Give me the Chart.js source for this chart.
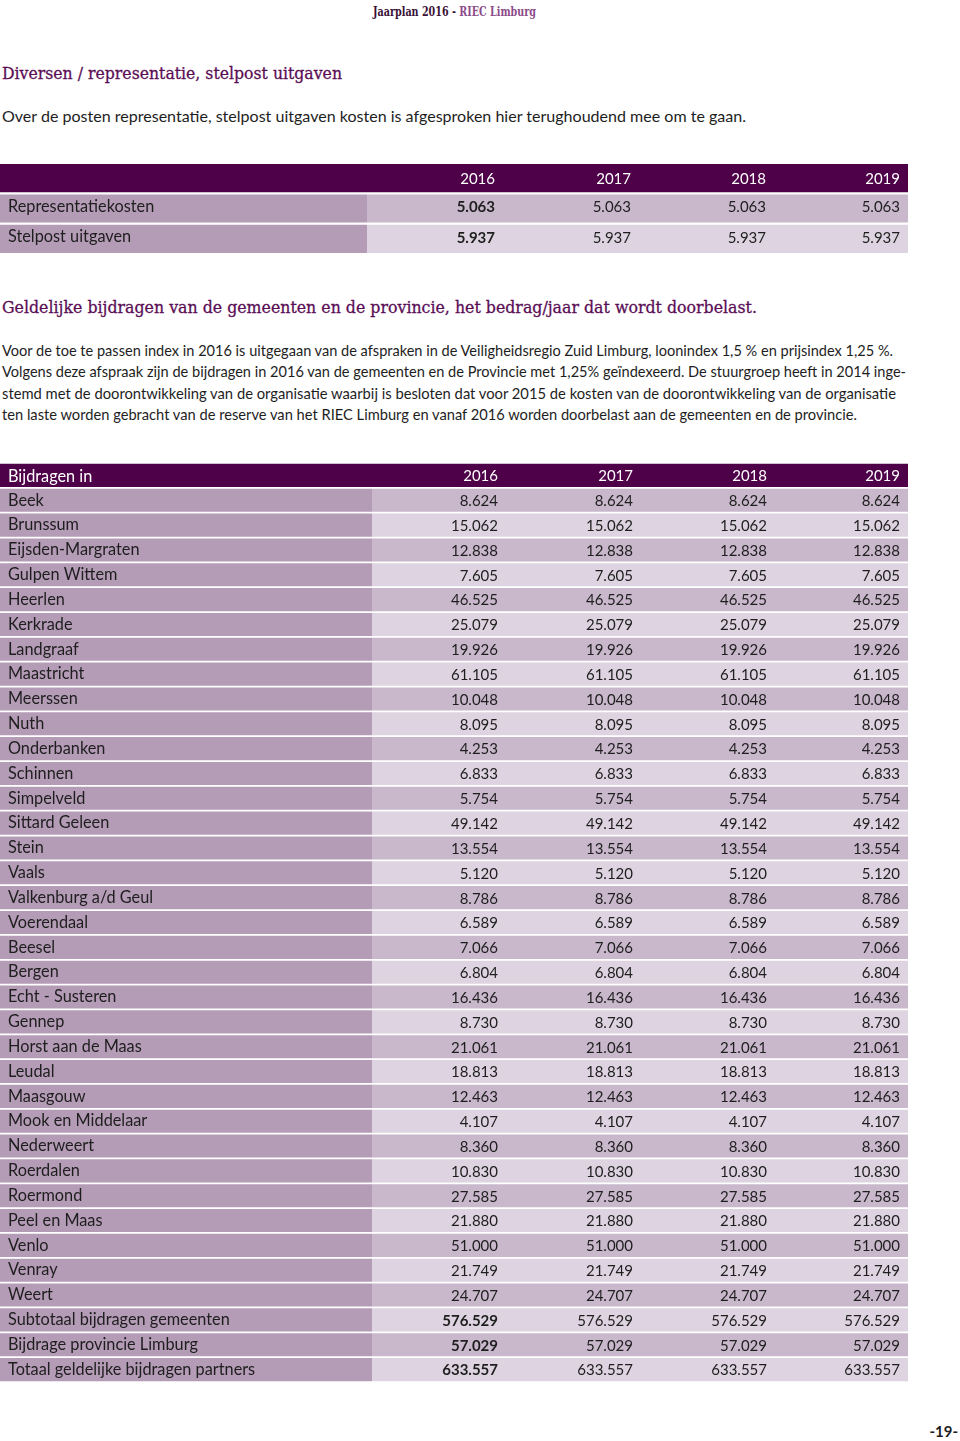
<!DOCTYPE html>
<html lang="nl">
<head>
<meta charset="utf-8">
<script src="https://cdn.jsdelivr.net/npm/chart.js@4.4.1/dist/chart.umd.min.js"></script>
<style>
  body { margin: 0; background: #fff; width: 960px; height: 1441px; position: relative; overflow: hidden; font-family: Lato, sans-serif; color: #1e1e1e; }
  .t { position: absolute; white-space: nowrap; transform-origin: 0 50%; line-height: 20px; }
  .kop { font-family: "DejaVu Serif", serif; color: #5a0d55; font-size: 17.5px; -webkit-text-stroke: 0.3px #5a0d55; }
  .p { font-size: 15px; }
  canvas { position: absolute; left: 0; }
</style>
</head>
<body>
<div class="t" data-w="163" style="left:373px;top:2px;font-family:'DejaVu Serif',serif;font-size:12px;font-weight:bold;color:#3a1136">Jaarplan 2016 - <span style="color:#8b4a89">RIEC Limburg</span></div>

<div class="t kop" data-w="340" style="left:2px;top:63px">Diversen / representatie, stelpost uitgaven</div>
<div class="t p" data-w="744" style="left:2px;top:106px">Over de posten representatie, stelpost uitgaven kosten is afgesproken hier terughoudend mee om te gaan.</div>

<canvas id="tabel1" width="908" height="91" style="top:163px"></canvas>

<div class="t kop" data-w="755" style="left:2px;top:297px">Geldelijke bijdragen van de gemeenten en de provincie, het bedrag/jaar dat wordt doorbelast.</div>
<div class="t p" data-w="891" style="left:2px;top:340px">Voor de toe te passen index in 2016 is uitgegaan van de afspraken in de Veiligheidsregio Zuid Limburg,  loonindex 1,5 % en prijsindex 1,25 %.</div>
<div class="t p" data-w="904" style="left:2px;top:361px">Volgens deze afspraak zijn de bijdragen in 2016 van de gemeenten en de Provincie met 1,25% geïndexeerd. De stuurgroep heeft in 2014  inge-</div>
<div class="t p" data-w="894" style="left:2px;top:383px">stemd met de doorontwikkeling van de organisatie waarbij is besloten dat voor 2015 de kosten van de doorontwikkeling van de organisatie</div>
<div class="t p" data-w="855" style="left:2px;top:404px">ten laste worden gebracht van de reserve van het RIEC Limburg en vanaf 2016 worden doorbelast aan de gemeenten en de provincie.</div>

<canvas id="tabel2" width="908" height="919" style="top:463px"></canvas>

<div class="t" style="right:2px;top:1421px;font-size:15px;font-weight:bold">-19-</div>

<script>
// tabel 1: representatie en stelpost
const jaren = ["2016", "2017", "2018", "2019"];
const posten = ["Representatiekosten", "Stelpost uitgaven"];
const posten2016 = [5063, 5937];
const posten2017 = [5063, 5937];
const posten2018 = [5063, 5937];
const posten2019 = [5063, 5937];

// tabel 2: bijdragen per gemeente
const gemeenten = [
  "Beek", "Brunssum", "Eijsden-Margraten", "Gulpen Wittem", "Heerlen", "Kerkrade",
  "Landgraaf", "Maastricht", "Meerssen", "Nuth", "Onderbanken", "Schinnen",
  "Simpelveld", "Sittard Geleen", "Stein", "Vaals", "Valkenburg a/d Geul", "Voerendaal",
  "Beesel", "Bergen", "Echt - Susteren", "Gennep", "Horst aan de Maas", "Leudal",
  "Maasgouw", "Mook en Middelaar", "Nederweert", "Roerdalen", "Roermond", "Peel en Maas",
  "Venlo", "Venray", "Weert", "Subtotaal bijdragen gemeenten", "Bijdrage provincie Limburg",
  "Totaal geldelijke bijdragen partners"
];
const bijdragen2016 = [8624, 15062, 12838, 7605, 46525, 25079, 19926, 61105, 10048, 8095, 4253, 6833,
  5754, 49142, 13554, 5120, 8786, 6589, 7066, 6804, 16436, 8730, 21061, 18813,
  12463, 4107, 8360, 10830, 27585, 21880, 51000, 21749, 24707, 576529, 57029, 633557];
const bijdragen2017 = [8624, 15062, 12838, 7605, 46525, 25079, 19926, 61105, 10048, 8095, 4253, 6833,
  5754, 49142, 13554, 5120, 8786, 6589, 7066, 6804, 16436, 8730, 21061, 18813,
  12463, 4107, 8360, 10830, 27585, 21880, 51000, 21749, 24707, 576529, 57029, 633557];
const bijdragen2018 = [8624, 15062, 12838, 7605, 46525, 25079, 19926, 61105, 10048, 8095, 4253, 6833,
  5754, 49142, 13554, 5120, 8786, 6589, 7066, 6804, 16436, 8730, 21061, 18813,
  12463, 4107, 8360, 10830, 27585, 21880, 51000, 21749, 24707, 576529, 57029, 633557];
const bijdragen2019 = [8624, 15062, 12838, 7605, 46525, 25079, 19926, 61105, 10048, 8095, 4253, 6833,
  5754, 49142, 13554, 5120, 8786, 6589, 7066, 6804, 16436, 8730, 21061, 18813,
  12463, 4107, 8360, 10830, 27585, 21880, 51000, 21749, 24707, 576529, 57029, 633557];

const kleurKop = "#4e0048";
const kleurLabel = "#b49bb6";
const kleurRijA = "#c9b7cc";
const kleurRijB = "#ded4e1";

const fmt = n => String(n).replace(/\B(?=(\d{3})+(?!\d))/g, ".");

// tekst in de cellen, geplaatst via de schalen van de grafiek
const celTekst = {
  id: "celtekst",
  afterDatasetsDraw(chart, args, opts) {
    const { ctx } = chart;
    const x = chart.scales.x, y = chart.scales.y;
    ctx.save();
    ctx.textBaseline = "middle";
    chart.data.labels.forEach((label, i) => {
      if (i === 0) {
        const py = y.getPixelForValue(i) + 1;
        ctx.fillStyle = "#fff";
        ctx.font = "16.3px Lato";
        ctx.textAlign = "left";
        ctx.fillText(label, x.getPixelForValue(8), py);
        ctx.font = "15px Lato";
        ctx.textAlign = "right";
        jaren.forEach((j, k) => ctx.fillText(j, x.getPixelForValue(opts.kolommen[k]), py));
        return;
      }
      const py = y.getPixelForValue(i) + opts.dy;
      ctx.fillStyle = "#1e1e1e";
      ctx.font = "16.3px Lato";
      ctx.textAlign = "left";
      ctx.fillText(label, x.getPixelForValue(8), py);
      ctx.textAlign = "right";
      opts.reeksen.forEach((reeks, k) => {
        ctx.font = (opts.vet(i - 1, k) ? "bold " : "") + "15px Lato";
        ctx.fillText(fmt(reeks[i - 1]), x.getPixelForValue(opts.kolommen[k]), py + 1);
      });
    });
    ctx.restore();
  }
};

function maakTabel(id, kopLabel, rijen, reeksen, labelEinde, kolommen, vet, dy) {
  const labels = [kopLabel].concat(rijen);
  new Chart(document.getElementById(id), {
    type: "bar",
    data: {
      labels: labels,
      datasets: [
        {
          data: labels.map(() => [0, labelEinde]),
          backgroundColor: labels.map((l, i) => i === 0 ? kleurKop : kleurLabel),
          grouped: false
        },
        {
          data: labels.map(() => [labelEinde, 908]),
          backgroundColor: labels.map((l, i) => i === 0 ? kleurKop : (i % 2 ? kleurRijA : kleurRijB)),
          grouped: false
        }
      ]
    },
    options: {
      indexAxis: "y",
      responsive: false,
      animation: false,
      events: [],
      layout: { padding: 0 },
      datasets: { bar: { barPercentage: 1, categoryPercentage: 0.93, borderWidth: 0 } },
      scales: {
        x: { type: "linear", min: 0, max: 908, display: false },
        y: { type: "category", display: false }
      },
      plugins: {
        legend: { display: false },
        tooltip: { enabled: false },
        celtekst: { reeksen: reeksen, kolommen: kolommen, vet: vet, dy: dy }
      }
    },
    plugins: [celTekst]
  });
}

maakTabel("tabel1", "", posten, [posten2016, posten2017, posten2018, posten2019],
  367, [495, 631, 766, 900], (r, k) => k === 0, -2);

maakTabel("tabel2", "Bijdragen in", gemeenten, [bijdragen2016, bijdragen2017, bijdragen2018, bijdragen2019],
  372, [498, 633, 767, 900], (r, k) => k === 0 && r >= gemeenten.length - 3, 0);

// tekstregels op breedte brengen
function schaal() {
  document.querySelectorAll(".t[data-w]").forEach(el => {
    el.style.transform = "none";
    const w = el.getBoundingClientRect().width;
    el.style.transform = "scaleX(" + (+el.dataset.w / w) + ")";
  });
}
schaal();
if (document.fonts) document.fonts.ready.then(schaal);
</script>
</body>
</html>
